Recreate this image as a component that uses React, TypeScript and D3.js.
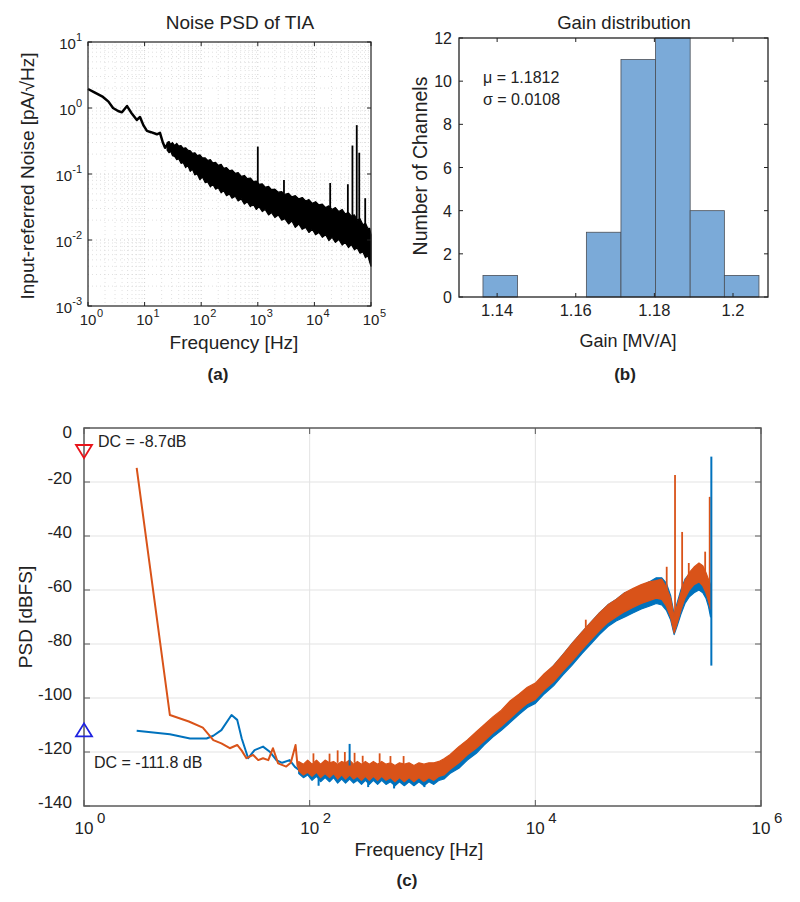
import React from 'react';
import * as d3 from 'd3';

const FONT = "'Liberation Sans', Arial, Helvetica, sans-serif";

// ---------- Panel (a): Noise PSD of TIA ----------
const noiseLowFreq: [number, number][] = [
  [1, 1.94], [1.3, 1.72], [1.84, 1.47], [2.3, 1.25], [2.77, 1.0], [3.4, 0.9], [3.98, 0.86],
  [4.9, 1.07], [5.8, 0.85], [7.3, 0.66], [8.3, 0.73], [9.5, 0.55], [11, 0.45], [13, 0.43],
  [16.5, 0.4], [18.7, 0.42], [21, 0.3], [23, 0.25], [26, 0.29], [28, 0.3],
];
// [frequency, lower envelope, upper envelope]
const noiseBand: [number, number, number][] = [
  [25, 0.23, 0.3], [27, 0.21, 0.31], [29, 0.22, 0.28], [31, 0.19, 0.3], [34, 0.185, 0.27],
  [37, 0.165, 0.29], [40, 0.17, 0.265], [44, 0.145, 0.27], [48, 0.15, 0.245], [53, 0.125, 0.25],
  [58, 0.135, 0.23], [64, 0.11, 0.225], [70, 0.118, 0.205], [77, 0.097, 0.21], [85, 0.1, 0.19],
  [95, 0.082, 0.195], [105, 0.09, 0.175], [118, 0.074, 0.175], [130, 0.076, 0.16], [145, 0.064, 0.165],
  [160, 0.07, 0.148], [180, 0.059, 0.15], [200, 0.062, 0.135], [225, 0.052, 0.14], [250, 0.056, 0.122],
  [280, 0.047, 0.125], [315, 0.05, 0.112], [350, 0.043, 0.115], [400, 0.046, 0.102], [450, 0.039, 0.105],
  [510, 0.042, 0.092], [580, 0.035, 0.095], [650, 0.038, 0.085], [740, 0.032, 0.087], [830, 0.035, 0.077],
  [940, 0.029, 0.078], [1050, 0.032, 0.07], [1200, 0.027, 0.071], [1350, 0.029, 0.063], [1550, 0.024, 0.065],
  [1750, 0.026, 0.058], [2000, 0.022, 0.059], [2300, 0.024, 0.053], [2650, 0.02, 0.054], [3000, 0.021, 0.049],
  [3500, 0.0175, 0.051], [4000, 0.0195, 0.045], [4600, 0.0155, 0.047], [5300, 0.0175, 0.042], [6100, 0.0145, 0.044],
  [7000, 0.0155, 0.039], [8000, 0.013, 0.041], [9200, 0.0145, 0.036], [10500, 0.012, 0.038], [12000, 0.013, 0.034],
  [13800, 0.011, 0.035], [15800, 0.012, 0.031], [18000, 0.0098, 0.033], [20500, 0.011, 0.029], [23500, 0.0092, 0.031],
  [27000, 0.0102, 0.027], [31000, 0.0084, 0.029], [35000, 0.0092, 0.025], [40000, 0.0077, 0.026], [45000, 0.0085, 0.023],
  [51000, 0.0071, 0.024], [57000, 0.0076, 0.02], [64000, 0.0063, 0.021], [72000, 0.0066, 0.017], [80000, 0.0054, 0.018],
  [88000, 0.0058, 0.015], [95000, 0.0046, 0.015], [100000, 0.004, 0.012],
];
// [frequency, base, peak]
const noiseSpikes: [number, number, number][] = [
  [1000, 0.06, 0.26], [2900, 0.05, 0.081], [19000, 0.03, 0.073], [39000, 0.025, 0.07],
  [47000, 0.02, 0.27], [56000, 0.02, 0.55], [62000, 0.02, 0.21], [79000, 0.015, 0.043],
];
const aXTickExps = [0, 1, 2, 3, 4, 5];
const aYTickExps = [-3, -2, -1, 0, 1];

// ---------- Panel (b): Gain distribution ----------
const gainBinEdges = [1.1364, 1.1452, 1.154, 1.1627, 1.1715, 1.1803, 1.1891, 1.1978, 1.2066];
const gainCounts = [1, 0, 0, 3, 11, 12, 4, 1];
const gainXTicks = [1.14, 1.16, 1.18, 1.2];
const gainXTickLabels = ['1.14', '1.16', '1.18', '1.2'];
const gainYTicks = [0, 2, 4, 6, 8, 10, 12];

// ---------- Panel (c): PSD ----------
const blueLow: [number, number][] = [
  [2.93, -112.1], [5.77, -113.4], [8.7, -115], [12.2, -115], [14, -114], [16.5, -111.9],
  [20.3, -106.3], [22.8, -108.1], [25, -115], [28.5, -122.3], [32.5, -119.3], [38.6, -118],
  [44.3, -119.9], [50.7, -123], [57, -124], [66.5, -123], [74, -125.5], [81, -126.7],
];
const orangeLow: [number, number][] = [
  [2.93, -14.8], [5.77, -106.3], [8.5, -108.7], [11.3, -111], [14, -115.6], [16.5, -116.8],
  [19.6, -118.6], [22.8, -117.4], [25, -119.5], [27.5, -122.3], [31.6, -121.1], [35, -123],
  [38.6, -122.3], [43, -123], [47.3, -118.6], [52.5, -124.2], [62, -125.4], [68, -124],
  [75, -117.4], [78, -125], [81, -126.7],
];
const blueBand: [number, number, number][] = [
  [80, -128, -124], [88, -129.5, -125.5], [96, -128.5, -124], [105, -130.5, -125], [115, -129, -124.5],
  [125, -131, -125.5], [137, -129.5, -124], [150, -131, -125], [163, -129.5, -124.5], [177, -131.5, -125.5],
  [192, -130, -124.5], [208, -131.5, -125], [226, -130, -124], [245, -131.5, -125.5], [265, -130.5, -124.5],
  [288, -132, -125.5], [312, -130.5, -124.5], [338, -132, -125.5], [367, -130.5, -124.5], [400, -132, -125.5],
  [435, -130.5, -124.5], [475, -132, -125.5], [520, -131, -125], [570, -132.5, -126], [625, -131, -125],
  [690, -132.5, -125.5], [760, -131, -125], [840, -132.5, -126], [930, -131, -125], [1030, -132.5, -125.5],
  [1140, -131, -125], [1260, -132, -125], [1400, -130.5, -124.5], [1550, -130, -123.5], [1750, -128, -122],
  [2100, -126, -119], [2500, -123, -116.5], [3000, -120.5, -113.5], [3500, -117.5, -111], [4200, -114.5, -108],
  [5000, -112, -105.5], [6000, -109, -102], [7200, -106, -99], [8500, -103.5, -96.5], [10000, -102, -95],
  [12000, -98.5, -91.5], [14500, -95.5, -88], [17500, -91.5, -84], [21000, -88, -80], [26000, -83.5, -75.5],
  [31000, -80, -72], [37000, -76.5, -68.5], [44000, -73.5, -65.5], [52000, -71.5, -63.5], [62000, -70, -61],
  [73000, -68.5, -60], [87000, -67, -58.5], [102000, -66, -57], [118000, -65, -55.5], [132000, -65.5, -55.5],
  [145000, -67.5, -57.5], [158000, -71, -62], [170000, -76.5, -69], [180000, -73.5, -65], [195000, -69, -60],
  [212000, -65, -56], [232000, -62.5, -54], [255000, -61, -52.5], [282000, -60, -51], [305000, -61, -52],
  [325000, -63, -55], [342000, -66, -57.5], [357000, -70, -60],
];
const orangeBand: [number, number, number][] = [
  [80, -127, -123.5], [88, -128.5, -124.5], [96, -127.5, -123], [105, -129, -124.5], [115, -127.5, -123],
  [125, -129.5, -124.5], [137, -128, -123], [150, -129.5, -124], [163, -128, -123.5], [177, -130, -124.5],
  [192, -128.5, -123.5], [208, -130, -124], [226, -128.5, -123], [245, -130, -124.5], [265, -129, -123.5],
  [288, -130.5, -124.5], [312, -129, -123.5], [338, -130.5, -124.5], [367, -129, -123.5], [400, -130.5, -124.5],
  [435, -129, -123.5], [475, -130.5, -124.5], [520, -129.5, -124], [570, -131, -125], [625, -129.5, -124],
  [690, -131, -124.5], [760, -129.5, -124], [840, -131, -125], [930, -129.5, -124], [1030, -131, -124.5],
  [1140, -129.5, -124], [1260, -130.5, -124], [1400, -129, -123.5], [1550, -128.5, -122.5], [1750, -126.5, -121],
  [2100, -124, -118], [2500, -121, -115.5], [3000, -118.5, -112.5], [3500, -116, -110], [4200, -113, -107],
  [5000, -110.5, -104.5], [6000, -107.5, -101], [7200, -104.5, -98.5], [8500, -102, -96], [10000, -100.5, -94.5],
  [12000, -97, -91], [14500, -94, -88], [17500, -90, -84], [21000, -86.5, -80], [26000, -82, -75.5],
  [31000, -78.5, -72], [37000, -75, -68.5], [44000, -72, -65.5], [52000, -70, -63.5], [62000, -68, -61],
  [73000, -66.5, -59.5], [87000, -65, -58], [102000, -64, -57], [118000, -63, -56.5], [132000, -63.5, -56],
  [145000, -66, -59], [158000, -70, -63], [170000, -76, -70], [180000, -72.5, -66], [195000, -67.5, -61],
  [212000, -63, -56.5], [232000, -60, -53.5], [255000, -58, -51.5], [282000, -57, -50], [305000, -58.5, -51],
  [325000, -61, -53.5], [342000, -64, -56], [357000, -67, -58],
];
const orangeSpikes: [number, number, number][] = [
  [108, -124, -120.5], [150, -124, -120.6], [177, -124, -119.4], [205, -124, -120], [250, -124, -120.3],
  [295, -124, -121.4], [417, -124, -120.5], [520, -124, -121.5], [680, -124.5, -121.5],
  [28000, -76, -71], [146000, -60, -51.4], [173000, -70, -17.4], [200000, -62, -38.5],
  [229000, -55, -50], [320000, -54, -45.8], [351000, -62, -25.5],
];
const blueSpikes: [number, number, number][] = [
  [226, -125, -117], [120, -130, -132.5], [330, -131, -133], [560, -131.5, -133.5],
  [1040, -131, -133], [363000, -88, -10.6],
];
const cXTickExps = [0, 2, 4, 6];
const cYTicks = [-140, -120, -100, -80, -60, -40, -20, 0];
const dcTop = -8.7;
const dcBottom = -111.8;

const BLUE = '#0072BD';
const ORANGE = '#D95319';

export default function App() {
  // ---- scales (a)
  const xA = d3.scaleLog().domain([1, 1e5]).range([88, 371]);
  const yA = d3.scaleLog().domain([1e-3, 10]).range([306, 42]);
  const lineA = d3.line<[number, number]>().x(d => xA(d[0])).y(d => yA(d[1]));
  const areaA = d3.area<[number, number, number]>().x(d => xA(d[0])).y0(d => yA(d[1])).y1(d => yA(d[2]));
  const minorXA = xA.ticks().filter(v => v > 1 && v < 1e5);
  const minorYA = yA.ticks().filter(v => v > 1e-3 && v < 10);

  // ---- scales (b)
  const xB = d3.scaleLinear().domain([1.1303, 1.2089]).range([459, 768]);
  const yB = d3.scaleLinear().domain([0, 12]).range([297, 38]);

  // ---- scales (c)
  const xC = d3.scaleLog().domain([1, 1e6]).range([84, 761]);
  const yC = d3.scaleLinear().domain([-140, 0]).range([806, 428]);
  const lineC = d3.line<[number, number]>().x(d => xC(d[0])).y(d => yC(d[1]));
  const areaC = d3.area<[number, number, number]>().x(d => xC(d[0])).y0(d => yC(d[1])).y1(d => yC(d[2]));

  const tri = (cx: number, cy: number, down: boolean) => {
    const w = 8, h = 13;
    return down
      ? `M${cx - w},${cy - h / 2} L${cx + w},${cy - h / 2} L${cx},${cy + h / 2} Z`
      : `M${cx - w},${cy + h / 2} L${cx + w},${cy + h / 2} L${cx},${cy - h / 2} Z`;
  };

  const isMajor = (v: number) => Math.abs(Math.log10(v) - Math.round(Math.log10(v))) < 1e-6;

  return (
    <svg width={800} height={902} style={{ position: 'absolute', left: 0, top: 0, background: '#fff' }} fontFamily={FONT}>
      <rect x={0} y={0} width={800} height={902} fill="#fff" />

      {/* ================= Panel (a) ================= */}
      <g>
        <text x={240} y={29} textAnchor="middle" fontSize={19} fill="#222">Noise PSD of TIA</text>
        {minorXA.map((v, i) => (
          <line key={'gxa' + i} x1={xA(v)} x2={xA(v)} y1={42} y2={306}
            stroke={isMajor(v) ? '#c4c4c4' : '#d8d8d8'} strokeWidth={0.8} strokeDasharray="1,3" />
        ))}
        {minorYA.map((v, i) => (
          <line key={'gya' + i} x1={88} x2={371} y1={yA(v)} y2={yA(v)}
            stroke={isMajor(v) ? '#c4c4c4' : '#d8d8d8'} strokeWidth={0.8} strokeDasharray="1,3" />
        ))}
        <path d={areaA(noiseBand) || ''} fill="#000" stroke="#000" strokeWidth={1.2} strokeLinejoin="round" />
        <path d={lineA(noiseLowFreq) || ''} fill="none" stroke="#000" strokeWidth={2.5} strokeLinejoin="round" />
        {noiseSpikes.map((s, i) => (
          <line key={'spa' + i} x1={xA(s[0])} x2={xA(s[0])} y1={yA(s[1])} y2={yA(s[2])} stroke="#000" strokeWidth={1.8} />
        ))}
        <rect x={88} y={42} width={283} height={264} fill="none" stroke="#222" strokeWidth={1.2} />
        {aXTickExps.map(e => (
          <g key={'txa' + e}>
            <line x1={xA(10 ** e)} x2={xA(10 ** e)} y1={306} y2={302} stroke="#222" />
            <line x1={xA(10 ** e)} x2={xA(10 ** e)} y1={42} y2={46} stroke="#222" />
            <text x={xA(10 ** e)} y={325} textAnchor="middle" fontSize={15} fill="#222">10</text>
            <text x={xA(10 ** e) + 9} y={317} fontSize={11} fill="#222">{e}</text>
          </g>
        ))}
        {aYTickExps.map(e => (
          <g key={'tya' + e}>
            <line x1={88} x2={92} y1={yA(10 ** e)} y2={yA(10 ** e)} stroke="#222" />
            <line x1={371} x2={367} y1={yA(10 ** e)} y2={yA(10 ** e)} stroke="#222" />
            <text x={82} y={yA(10 ** e) + 7} textAnchor="end" fontSize={15} fill="#222">
              10<tspan dy={-8} fontSize={11}>{e}</tspan>
            </text>
          </g>
        ))}
        <text x={234} y={349} textAnchor="middle" fontSize={19} fill="#222">Frequency [Hz]</text>
        <text transform="translate(34,176) rotate(-90)" textAnchor="middle" fontSize={19} fill="#222">Input-referred Noise [pA/√Hz]</text>
        <text x={218} y={380} textAnchor="middle" fontSize={17} fontWeight="bold" fill="#222">(a)</text>
      </g>

      {/* ================= Panel (b) ================= */}
      <g>
        <text x={624} y={29} textAnchor="middle" fontSize={18.5} fill="#222">Gain distribution</text>
        {gainCounts.map((c, i) => (
          <rect key={'bar' + i} x={xB(gainBinEdges[i])} y={yB(c)} width={xB(gainBinEdges[i + 1]) - xB(gainBinEdges[i])}
            height={yB(0) - yB(c)} fill="#7BAAD8" stroke="#4a4f57" strokeWidth={c > 0 ? 0.8 : 0} />
        ))}
        <rect x={459} y={38} width={309} height={259} fill="none" stroke="#222" strokeWidth={1.3} />
        {gainXTicks.map((v, i) => (
          <g key={'txb' + i}>
            <line x1={xB(v)} x2={xB(v)} y1={297} y2={293} stroke="#222" />
            <line x1={xB(v)} x2={xB(v)} y1={38} y2={42} stroke="#222" />
            <text x={xB(v)} y={316} textAnchor="middle" fontSize={16.5} fill="#222">{gainXTickLabels[i]}</text>
          </g>
        ))}
        {gainYTicks.map(v => (
          <g key={'tyb' + v}>
            <line x1={459} x2={463} y1={yB(v)} y2={yB(v)} stroke="#222" />
            <line x1={768} x2={764} y1={yB(v)} y2={yB(v)} stroke="#222" />
            <text x={452} y={yB(v) + 6} textAnchor="end" fontSize={16} fill="#222">{v}</text>
          </g>
        ))}
        <text x={483} y={83} fontSize={16} fill="#222">μ = 1.1812</text>
        <text x={483} y={105} fontSize={16} fill="#222">σ = 0.0108</text>
        <text x={628} y={347} textAnchor="middle" fontSize={18} fill="#222">Gain [MV/A]</text>
        <text transform="translate(427,166) rotate(-90)" textAnchor="middle" fontSize={19.5} fill="#222">Number of Channels</text>
        <text x={625} y={380} textAnchor="middle" fontSize={17} fontWeight="bold" fill="#222">(b)</text>
      </g>

      {/* ================= Panel (c) ================= */}
      <g>
        {cYTicks.filter(v => v > -140 && v < 0).map(v => (
          <line key={'gyc' + v} x1={84} x2={761} y1={yC(v)} y2={yC(v)} stroke="#e3e3e3" strokeWidth={1} />
        ))}
        {cXTickExps.filter(e => e > 0 && e < 6).map(e => (
          <line key={'gxc' + e} x1={xC(10 ** e)} x2={xC(10 ** e)} y1={428} y2={806} stroke="#e3e3e3" strokeWidth={1} />
        ))}
        <path d={areaC(blueBand) || ''} fill={BLUE} stroke={BLUE} strokeWidth={1.2} strokeLinejoin="round" />
        <path d={lineC(blueLow) || ''} fill="none" stroke={BLUE} strokeWidth={2} strokeLinejoin="round" />
        <path d={areaC(orangeBand) || ''} fill={ORANGE} stroke={ORANGE} strokeWidth={1.2} strokeLinejoin="round" />
        <path d={lineC(orangeLow) || ''} fill="none" stroke={ORANGE} strokeWidth={2} strokeLinejoin="round" />
        {orangeSpikes.map((s, i) => (
          <line key={'spo' + i} x1={xC(s[0])} x2={xC(s[0])} y1={yC(s[1])} y2={yC(s[2])} stroke={ORANGE} strokeWidth={1.8} />
        ))}
        {blueSpikes.map((s, i) => (
          <line key={'spb' + i} x1={xC(s[0])} x2={xC(s[0])} y1={yC(s[1])} y2={yC(s[2])} stroke={BLUE} strokeWidth={2} />
        ))}
        <rect x={84} y={428} width={677} height={378} fill="none" stroke="#5a5a5a" strokeWidth={1.5} />
        {cYTicks.map(v => (
          <g key={'tyc' + v}>
            <line x1={84} x2={90} y1={yC(v)} y2={yC(v)} stroke="#5a5a5a" />
            <line x1={761} x2={755} y1={yC(v)} y2={yC(v)} stroke="#5a5a5a" />
            <text x={72} y={Math.max(yC(v) + 2, 438)} textAnchor="end" fontSize={17} fill="#222">{v}</text>
          </g>
        ))}
        {cXTickExps.map(e => (
          <g key={'txc' + e}>
            <line x1={xC(10 ** e)} x2={xC(10 ** e)} y1={806} y2={800} stroke="#5a5a5a" />
            <line x1={xC(10 ** e)} x2={xC(10 ** e)} y1={428} y2={434} stroke="#5a5a5a" />
            <text x={xC(10 ** e)} y={834} textAnchor="middle" fontSize={17} fill="#222">10</text>
            <text x={xC(10 ** e) + 13} y={823} fontSize={15} fill="#222">{e}</text>
          </g>
        ))}
        <path d={tri(84, yC(dcTop), true)} fill="none" stroke="#E8141A" strokeWidth={1.8} />
        <path d={tri(84, yC(dcBottom), false)} fill="none" stroke="#1E22E0" strokeWidth={1.8} />
        <text x={98} y={447} fontSize={16} fill="#222">DC = -8.7dB</text>
        <text x={94} y={768} fontSize={16} fill="#222">DC = -111.8 dB</text>
        <text x={419} y={856} textAnchor="middle" fontSize={19} fill="#222">Frequency [Hz]</text>
        <text transform="translate(32,617) rotate(-90)" textAnchor="middle" fontSize={19} fill="#222">PSD [dBFS]</text>
        <text x={407} y={886} textAnchor="middle" fontSize={17} fontWeight="bold" fill="#222">(c)</text>
      </g>
    </svg>
  );
}
